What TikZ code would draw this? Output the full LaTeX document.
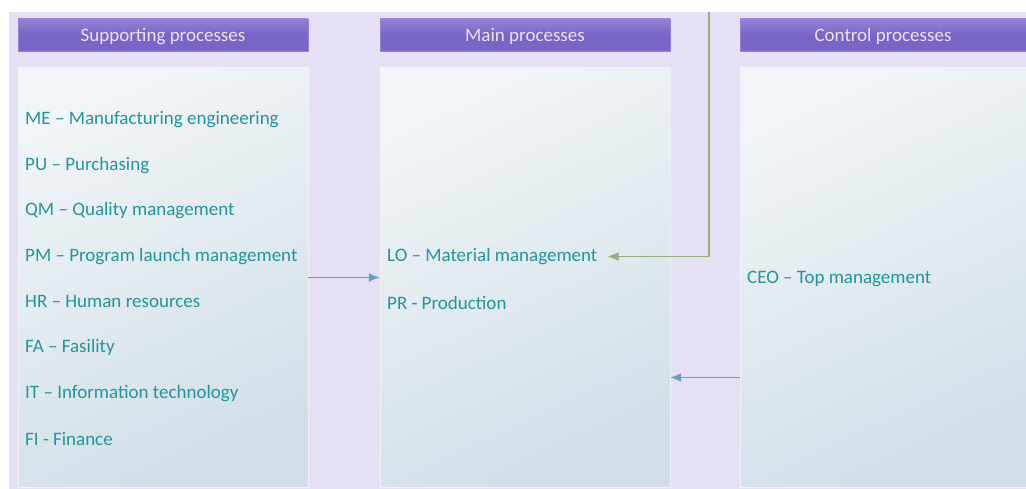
\documentclass[tikz,border=0pt]{standalone}
\usepackage{fontspec}
\setmainfont{Carlito}
\usetikzlibrary{arrows.meta}
\definecolor{lavbg}{RGB}{230,224,245}
\definecolor{hdrfill}{RGB}{122,100,198}
\definecolor{hdrtop}{RGB}{150,130,215}
\definecolor{hdrline}{RGB}{150,130,215}
\definecolor{hdrtext}{RGB}{232,228,250}
\definecolor{boxtop}{RGB}{241,245,247}
\definecolor{boxbot}{RGB}{208,223,231}
\definecolor{tealtext}{RGB}{36,148,158}
\definecolor{bluearrow}{RGB}{105,158,192}
\definecolor{greenarrow}{RGB}{150,175,130}

\begin{document}
\begin{tikzpicture}[x=1pt, y=-1pt,
        header/.style={draw=hdrline, top color=hdrtop, bottom color=hdrfill, middle color=hdrfill,
          text=hdrtext, inner sep=0pt, minimum width=290pt, minimum height=32pt, text depth=0pt,
          font=\fontsize{19}{22}\selectfont},
        procbox/.style={draw=boxtop!80!lavbg, inner sep=0pt, minimum width=290pt, minimum height=419pt,
          top color=boxtop, bottom color=boxbot, shading angle=25},
        item/.style={anchor=west, text=tealtext, inner sep=2pt, font=\fontsize{19}{22}\selectfont},
        flow/.style={draw=bluearrow, line width=1.5pt, -{Latex[length=11pt, width=9pt]}}]
      \useasboundingbox (0,0) rectangle (1026,489);
      \fill[lavbg] (9,12) rectangle (1026,489);
      % columns
      \node (suphdr) [header] at (163,35) {Supporting processes};
      \node (mainhdr) [header] at (525,35) {Main processes};
      \node (ctrlhdr) [header, minimum width=286pt] at (883,35) {Control processes};
      \node (supbox) [procbox] at (163,277.5) {};
      \node (mainbox) [procbox] at (525,277.5) {};
      \node (ctrlbox) [procbox, minimum width=286pt] at (883,277.5) {};
      % supporting
      \foreach \nm/\txt [count=\i from 0] in {me/ME – Manufacturing engineering, pu/PU – Purchasing,
          qm/QM – Quality management, pm/PM – Program launch management, hr/HR – Human resources,
          fa/FA – Fasility, it/IT – Information technology, fi/FI - Finance}
        \node (\nm) [item] at (23,119.5+45.6*\i) {\txt};
      % main
      \node (lo) [item] at (385,256.5) {LO – Material management};
      \node (pr) [item] at (385,302.5) {PR - Production};
      % control
      \node (ceo) [item] at (745,278.5) {CEO – Top management};
      \coordinate (feedtop) at (709,12);
      \draw[flow] (supbox.east) -- (mainbox.west);
      \draw[flow] ([yshift=-100pt]ctrlbox.west) -- ([yshift=-100pt]mainbox.east);
      \draw[flow, draw=greenarrow, line width=1.1pt] (feedtop) |- ([xshift=8pt]lo.east);
    \end{tikzpicture}
\end{document}
